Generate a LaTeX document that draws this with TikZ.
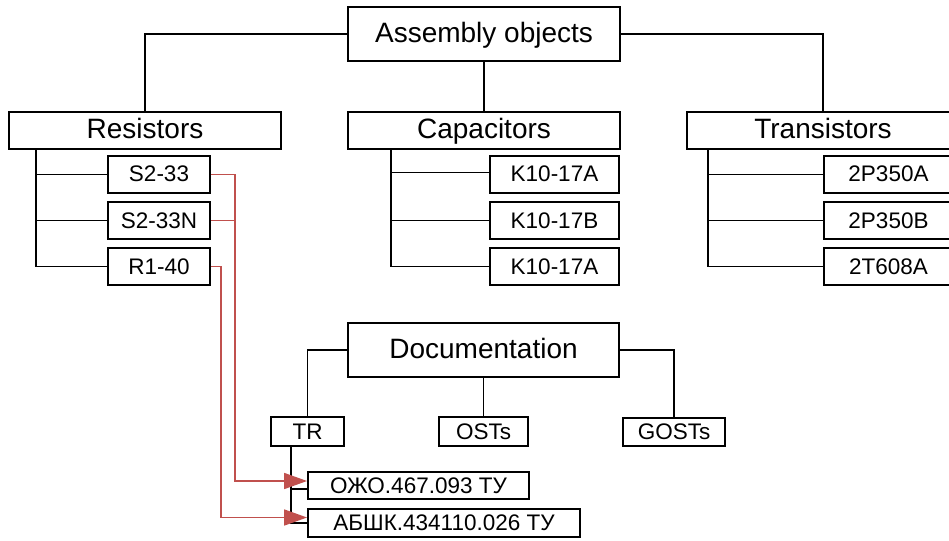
\documentclass[tikz,border=0pt]{standalone}
\usepackage{fontspec}
\setmainfont{Liberation Sans}
\usetikzlibrary{arrows.meta}
\definecolor{linkred}{RGB}{192,80,77}
\tikzset{
  bigbox/.style={draw=black, line width=1.9pt, inner sep=0pt, font=\fontsize{28}{32}\selectfont, text height=20pt, text depth=3pt, minimum height=#1},
  smallbox/.style={draw=black, line width=1.9pt, inner sep=0pt, font=\fontsize{22.5}{26}\selectfont, text height=16pt, text depth=1pt},
  conn/.style={draw=black, line width=1.9pt},
  link/.style={draw=linkred, line width=1.7pt, -{Triangle[length=23pt,width=16pt]}},
  linkplain/.style={draw=linkred, line width=1.7pt},
}
\begin{document}
\begin{tikzpicture}[x=1pt,y=-1pt]
\useasboundingbox (0,0) rectangle (949,540);
\clip (0,0) rectangle (949,540);
\fill[white] (0,0) rectangle (949,540);
% top
\node[bigbox=54pt, minimum width=272pt] (asm) at (484,34) {Assembly objects};
\node[bigbox=37pt, minimum width=272pt] (res) at (145,130.5) {Resistors};
\node[bigbox=37pt, minimum width=272pt] (cap) at (484,130.5) {Capacitors};
\node[bigbox=37pt, minimum width=272pt] (tra) at (823,130.5) {Transistors};
% resistor children
\node[smallbox, minimum width=102pt, minimum height=37pt] (s233) at (159,174.5) {S2-33};
\node[smallbox, minimum width=102pt, minimum height=37pt] (s233n) at (159,220.5) {S2-33N};
\node[smallbox, minimum width=102pt, minimum height=37pt] (r140) at (159,266.5) {R1-40};
% capacitor children
\node[smallbox, minimum width=129pt, minimum height=37pt] (k1) at (554.5,174.5) {K10-17A};
\node[smallbox, minimum width=129pt, minimum height=37pt] (k2) at (554.5,220.5) {K10-17B};
\node[smallbox, minimum width=129pt, minimum height=37pt] (k3) at (554.5,266.5) {K10-17A};
% transistor children
\node[smallbox, minimum width=129pt, minimum height=37pt] (t1) at (888.5,174.5) {2P350A};
\node[smallbox, minimum width=129pt, minimum height=37pt] (t2) at (888.5,220.5) {2P350B};
\node[smallbox, minimum width=129pt, minimum height=37pt] (t3) at (888.5,266.5) {2T608A};
% documentation
\node[bigbox=54pt, minimum width=271pt] (doc) at (483.5,350) {Documentation};
\node[smallbox, minimum width=73pt, minimum height=29pt] (tr) at (307.5,431.5) {TR};
\node[smallbox, minimum width=89pt, minimum height=29pt] (osts) at (483.5,431.5) {OSTs};
\node[smallbox, minimum width=102pt, minimum height=28pt] (gosts) at (674,432) {GOSTs};
\node[smallbox, minimum width=221pt, minimum height=27pt] (ozho) at (418.5,485.5) {ОЖО.467.093 ТУ};
\node[smallbox, minimum width=272pt, minimum height=28pt] (abshk) at (444,523) {АБШК.434110.026 ТУ};
% trunk coordinates
\coordinate (rtr) at ([xshift=28pt]res.south west);
\coordinate (ctr) at ([xshift=44pt]cap.south west);
\coordinate (ttr) at ([xshift=22pt]tra.south west);
\coordinate (dtr) at ([xshift=21pt]tr.south west);
\coordinate (j1) at (235,0);
\coordinate (j2) at (221,0);
% black connectors
\draw[conn] (asm.west) -| (res.north);
\draw[conn] (asm.south) -- (cap.north);
\draw[conn] (asm.east) -| (tra.north);
\draw[conn] (rtr) |- (s233.west);
\draw[conn] (rtr) |- (s233n.west);
\draw[conn] (rtr) |- (r140.west);
\draw[conn] (ctr) |- ([yshift=2pt]k1.west);
\draw[conn] (ctr) |- (k2.west);
\draw[conn] (ctr) |- (k3.west);
\draw[conn] (ttr) |- (t1.west);
\draw[conn] (ttr) |- (t2.west);
\draw[conn] (ttr) |- (t3.west);
\draw[conn] (doc.west) -| (tr.north);
\draw[conn] (doc.south) -- (osts.north);
\draw[conn] (doc.east) -| (gosts.north);
\draw[conn] (dtr) |- ([yshift=-3.5pt]ozho.west);
\draw[conn] (dtr) |- (abshk.west);
% red links
\draw[linkplain] (s233n.east) -- (s233n.east -| j1);
\draw[link] (s233.east) -- (s233.east -| j1) |- ([yshift=4.5pt]ozho.west);
\draw[link] (r140.east) -- (r140.east -| j2) |- ([yshift=5.5pt]abshk.west);
\end{tikzpicture}
\end{document}
